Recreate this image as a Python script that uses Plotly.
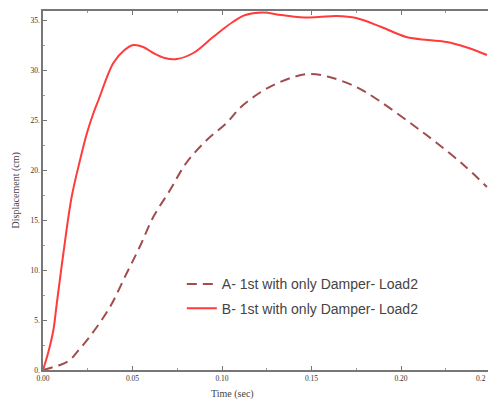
import plotly.graph_objects as go

# Data
time_b = [0, 0.003, 0.0058, 0.0076, 0.0114, 0.016, 0.0207, 0.0244, 0.028, 0.031, 0.0393,
          0.0455, 0.0505, 0.056, 0.0616, 0.068, 0.0747, 0.084, 0.095, 0.106, 0.113,
          0.1223, 0.133, 0.1436, 0.154, 0.164, 0.175, 0.189, 0.203, 0.215, 0.2255,
          0.236, 0.248]
disp_b = [0, 1.8, 4.0, 6.5, 11.7, 17.3, 21.0, 23.6, 25.6, 27.0, 30.7,
          32.0, 32.5, 32.3, 31.7, 31.2, 31.1, 31.7, 33.3, 34.8, 35.5,
          35.75, 35.5, 35.27, 35.3, 35.4, 35.2, 34.3, 33.3, 33.0, 32.8,
          32.3, 31.5]

time_a = [0, 0.005, 0.0095, 0.015, 0.02, 0.026, 0.0374, 0.0468, 0.054, 0.0616,
          0.071, 0.08, 0.0915, 0.1026, 0.11, 0.12, 0.13, 0.14, 0.149, 0.16,
          0.175, 0.188, 0.2067, 0.22, 0.235, 0.248]
disp_a = [0, 0.25, 0.5, 1.0, 2.0, 3.3, 6.3, 9.7, 12.3, 15.3,
          18.0, 20.7, 23.0, 24.7, 26.2, 27.6, 28.6, 29.3, 29.6, 29.3,
          28.3, 26.9, 24.5, 22.7, 20.5, 18.3]

x_ticks = [0, 0.05, 0.10, 0.15, 0.20]
x_labels = ["0.00", "0.05", "0.10", "0.15", "0.20"]
y_ticks = [0, 5, 10, 15, 20, 25, 30, 35]
y_labels = ["0.", "5.", "10.", "15.", "20.", "25.", "30.", "35."]

name_a = "A- 1st with only Damper- Load2"
name_b = "B- 1st with only Damper- Load2"

fig = go.Figure()
fig.add_trace(go.Scatter(x=time_a, y=disp_a, mode="lines", name=name_a,
                         legendgroup="a",
                         line=dict(color="#A24D4D", width=2, dash="10px,6px",
                                   shape="spline", smoothing=1.0)))
fig.add_trace(go.Scatter(x=time_b, y=disp_b, mode="lines", name=name_b,
                         legendgroup="b",
                         line=dict(color="#FF3B3B", width=2,
                                   shape="spline", smoothing=1.0)))

tick_font = dict(family="Liberation Serif", size=7.5, color="#333")
fig.update_layout(
    width=488, height=401,
    margin=dict(l=43, r=0, t=11, b=31),
    plot_bgcolor="white", paper_bgcolor="white",
    showlegend=True,
    legend=dict(x=0.312, y=0.283, xanchor="left", yanchor="top",
                font=dict(family="Liberation Sans", size=14, color="#444"),
                bgcolor="rgba(255,255,255,0)", tracegroupgap=3),
    xaxis=dict(range=[0, 0.2486], tickmode="array", tickvals=x_ticks, ticktext=x_labels,
               ticks="inside", ticklen=4, tickcolor="#777", showline=True,
               linecolor="#777", linewidth=1.5, mirror="ticks", showgrid=False,
               zeroline=False, tickfont=tick_font,
               minor=dict(tickmode="linear", tick0=0, dtick=0.025, ticks="inside",
                          ticklen=2, tickcolor="#999")),
    yaxis=dict(range=[0, 35.9], tickmode="array", tickvals=y_ticks, ticktext=y_labels,
               ticks="inside", ticklen=4, tickcolor="#777", showline=True,
               linecolor="#777", linewidth=1.5, mirror=False, showgrid=False,
               zeroline=False, tickfont=tick_font,
               minor=dict(tickmode="linear", tick0=0, dtick=2.5, ticks="inside",
                          ticklen=2, tickcolor="#999")),
    annotations=[
        dict(text="Time (sec)", x=0.425, y=0, xref="paper", yref="paper",
             yanchor="middle", yshift=-24, showarrow=False,
             font=dict(family="Liberation Serif", size=10, color="#444")),
        dict(text="Displacement (cm)", x=0, y=0.5, xref="paper", yref="paper",
             xanchor="center", xshift=-28, textangle=-90, showarrow=False,
             font=dict(family="Liberation Serif", size=10, color="#444")),
        dict(text="0.2", x=1, y=0, xref="paper", yref="paper", xanchor="right",
             yanchor="top", yshift=-2, showarrow=False, font=tick_font),
    ],
)

fig.write_html("out.html", config={"displayModeBar": False},
               post_script="document.body.style.margin='0';document.body.style.overflow='hidden';")
